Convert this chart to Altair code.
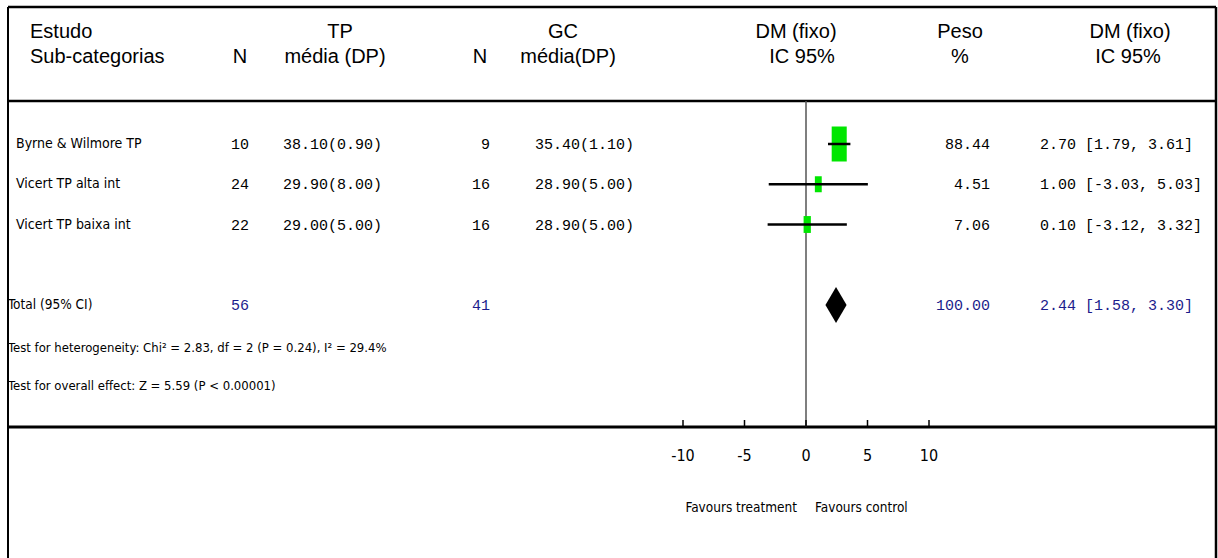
import altair as alt
import pandas as pd

# ---------------- data ----------------
studies = ["Byrne & Wilmore TP", "Vicert TP alta int", "Vicert TP baixa int"]
row_index = [0, 1, 2]
tp_n = [10, 24, 22]
tp_mean_sd = ["38.10(0.90)", "29.90(8.00)", "29.00(5.00)"]
gc_n = [9, 16, 16]
gc_mean_sd = ["35.40(1.10)", "28.90(5.00)", "28.90(5.00)"]
md = [2.70, 1.00, 0.10]
ci_low = [1.79, -3.03, -3.12]
ci_high = [3.61, 5.03, 3.32]
weight = [88.44, 4.51, 7.06]

total_row = 4
total_label = "Total (95% CI)"
total_tp_n = 56
total_gc_n = 41
total_md = 2.44
total_low = 1.58
total_high = 3.30
total_weight = 100.00

het_text = "Test for heterogeneity: Chi\u00b2 = 2.83, df = 2 (P = 0.24), I\u00b2 = 29.4%"
overall_text = "Test for overall effect: Z = 5.59 (P < 0.00001)"
axis_ticks = [-10, -5, 0, 5, 10]
favours_left = "Favours treatment"
favours_right = "Favours control"

header_line1 = ["Estudo", "TP", "GC", "DM (fixo)", "Peso", "DM (fixo)"]
header_line2 = ["Sub-categorias", "N", "média (DP)", "N", "média(DP)", "IC 95%", "%", "IC 95%"]

# ---------------- style ----------------
HEAD_FONT = "Liberation Sans, Arial, sans-serif"
NARROW = "Liberation Sans Narrow, DejaVu Sans Condensed, Liberation Sans, sans-serif"
MONO = "Liberation Mono, DejaVu Sans Mono, monospace"
GREEN = "#00e600"
BLUE = "#1c1c8c"
MONO_SIZE = 15
NAME_SIZE = 14

XS = alt.Scale(domain=[-10, 10], range=[683, 929], zero=False, nice=False)
YS = alt.Scale(domain=[0, 4], range=[144, 305], zero=False, nice=False)

layers = []


def one(text, x, y, align="left", font=HEAD_FONT, size=20, color="black"):
    return alt.Chart(pd.DataFrame({"t": [text]})).mark_text(
        align=align, baseline="middle", font=font, fontSize=size, color=color
    ).encode(text="t:N", x=alt.value(x), y=alt.value(y))


def hrule(x1, x2, y, w=2, color="black"):
    return alt.Chart(pd.DataFrame({"a": [0]})).mark_rule(
        strokeWidth=w, color=color
    ).encode(x=alt.value(x1), x2=alt.value(x2), y=alt.value(y))


def vrule(x, y1, y2, w=2, color="black"):
    return alt.Chart(pd.DataFrame({"a": [0]})).mark_rule(
        strokeWidth=w, color=color
    ).encode(x=alt.value(x), y=alt.value(y1), y2=alt.value(y2))


# frame
layers += [
    hrule(8, 1216, 7, 2.5),
    hrule(8, 1216, 101, 2.5),
    hrule(8, 1216, 427, 3),
    vrule(8, 7, 558, 2),
    vrule(1216, 7, 558, 2.5),
]

# header
h1x = [30, 340, 563, 796, 960, 1130]
h1a = ["left", "center", "center", "center", "center", "center"]
for t, x, a in zip(header_line1, h1x, h1a):
    layers.append(one(t, x, 32, a))
h2x = [30, 240, 335, 480, 568, 802, 960, 1128]
h2a = ["left", "center", "center", "center", "center", "center", "center", "center"]
for t, x, a in zip(header_line2, h2x, h2a):
    layers.append(one(t, x, 57, a))

# study table
df = pd.DataFrame({
    "row": row_index,
    "study": studies,
    "tp_n": [str(v) for v in tp_n],
    "tp_ms": tp_mean_sd,
    "gc_n": [str(v) for v in gc_n],
    "gc_ms": gc_mean_sd,
    "md": md,
    "lo": ci_low,
    "hi": ci_high,
    "w": weight,
    "w_txt": [f"{v:.2f}" for v in weight],
    "ci_txt": [f"{m:.2f} [{l:.2f}, {h:.2f}]" for m, l, h in zip(md, ci_low, ci_high)],
})

base = alt.Chart(df)
Y = alt.Y("row:Q", scale=YS, axis=None)


def col(field, x, align, font, size, color="black", data=None):
    ch = alt.Chart(data) if data is not None else base
    return ch.mark_text(align=align, baseline="middle", font=font,
                        fontSize=size, color=color).encode(
        text=f"{field}:N", x=alt.value(x), y=Y)


layers += [
    col("study", 16, "left", NARROW, NAME_SIZE),
    col("tp_n", 240, "center", MONO, MONO_SIZE),
    col("tp_ms", 283, "left", MONO, MONO_SIZE),
    col("gc_n", 490, "right", MONO, MONO_SIZE),
    col("gc_ms", 535, "left", MONO, MONO_SIZE),
    col("w_txt", 990, "right", MONO, MONO_SIZE),
    col("ci_txt", 1040, "left", MONO, MONO_SIZE),
]

# zero line
zero_df = pd.DataFrame({"v": [0]})
layers.append(
    alt.Chart(zero_df).mark_rule(strokeWidth=1.5, color="#555555").encode(
        x=alt.X("v:Q", scale=XS, axis=None), y=alt.value(101), y2=alt.value(427))
)

# squares (weights) then CI lines
box_path = "M-0.43,-1L0.43,-1L0.43,1L-0.43,1Z"
layers.append(
    base.mark_point(shape=box_path, filled=True, color=GREEN, opacity=1, strokeWidth=0).encode(
        x=alt.X("md:Q", scale=XS, axis=None), y=Y,
        size=alt.Size("w:Q", scale=alt.Scale(domain=[4.51, 88.44], range=[256, 1225]), legend=None))
)
layers.append(
    base.mark_rule(strokeWidth=2.5, color="black").encode(
        x=alt.X("lo:Q", scale=XS, axis=None), x2="hi:Q", y=Y)
)

# total diamond
half = 0.45
dia = pd.DataFrame({
    "v": [total_low, total_md, total_high],
    "top": [total_row, total_row - half, total_row],
    "bot": [total_row, total_row + half, total_row],
})
layers.append(
    alt.Chart(dia).mark_area(color="black", opacity=1).encode(
        x=alt.X("v:Q", scale=XS, axis=None),
        y=alt.Y("top:Q", scale=YS, axis=None), y2="bot:Q")
)

# total row text
tot = pd.DataFrame({
    "row": [total_row],
    "label": [total_label],
    "tp_n": [str(total_tp_n)],
    "gc_n": [str(total_gc_n)],
    "w_txt": [f"{total_weight:.2f}"],
    "ci_txt": [f"{total_md:.2f} [{total_low:.2f}, {total_high:.2f}]"],
})
layers += [
    col("label", 8, "left", NARROW, 13.5, data=tot),
    col("tp_n", 240, "center", MONO, MONO_SIZE, BLUE, data=tot),
    col("gc_n", 490, "right", MONO, MONO_SIZE, BLUE, data=tot),
    col("w_txt", 990, "right", MONO, MONO_SIZE, BLUE, data=tot),
    col("ci_txt", 1040, "left", MONO, MONO_SIZE, BLUE, data=tot),
]

# tests
layers.append(one(het_text, 8, 348, "left", NARROW, 13))
layers.append(one(overall_text, 8, 386, "left", NARROW, 13))

# axis ticks & labels
tick_df = pd.DataFrame({"v": axis_ticks, "lab": [str(v) for v in axis_ticks]})
layers.append(
    alt.Chart(tick_df).mark_rule(strokeWidth=1.5, color="black").encode(
        x=alt.X("v:Q", scale=XS, axis=None), y=alt.value(420), y2=alt.value(427))
)
layers.append(
    alt.Chart(tick_df).mark_text(font=NARROW, fontSize=16, baseline="middle", align="center").encode(
        x=alt.X("v:Q", scale=XS, axis=None), y=alt.value(456), text="lab:N")
)
layers.append(one(favours_left, 797, 508, "right", NARROW, 13.5))
layers.append(one(favours_right, 815, 508, "left", NARROW, 13.5))

chart = alt.layer(*layers).properties(
    width=1218, height=558, autosize="none", padding=0, background="white"
).configure_view(stroke=None)

chart.save("out.html", embed_options={"renderer": "svg", "actions": False})
